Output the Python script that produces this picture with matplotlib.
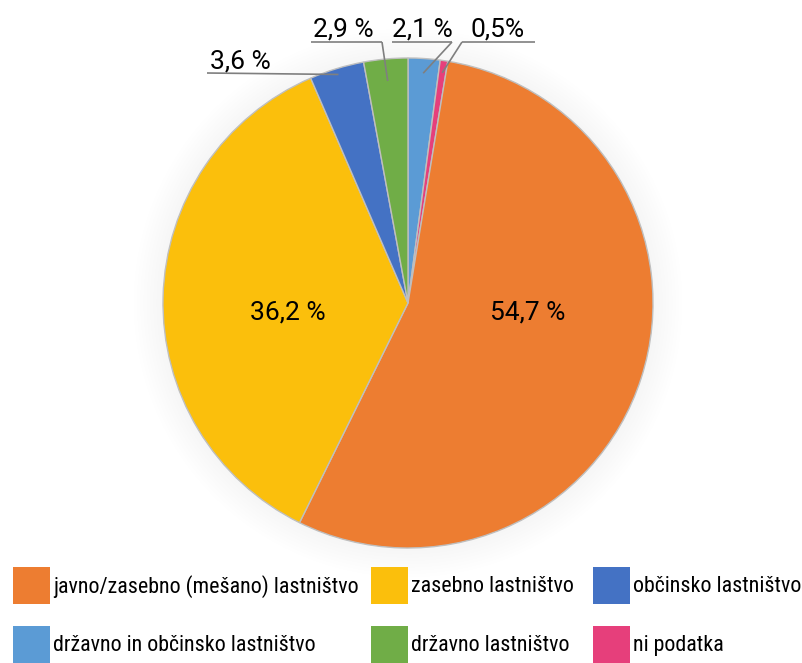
import matplotlib
matplotlib.use("Agg")
import matplotlib.pyplot as plt
from matplotlib.patches import Circle, Rectangle
import numpy as np

plt.rcParams['font.family'] = ['Roboto Condensed', 'Lato', 'DejaVu Sans']
LABEL_FONT = ['Roboto', 'DejaVu Sans']

# Data (clockwise from 12 o'clock)
categories = ["državno in občinsko lastništvo", "ni podatka",
              "javno/zasebno (mešano) lastništvo", "zasebno lastništvo",
              "občinsko lastništvo", "državno lastništvo"]
values = [2.1, 0.5, 54.7, 36.2, 3.6, 2.9]
value_labels = ["2,1 %", "0,5%", "54,7 %", "36,2 %", "3,6 %", "2,9 %"]
colors = ["#5B9BD5", "#E63F7B", "#ED7D31", "#FBBF0C", "#4472C4", "#70AD47"]

legend_order = ["javno/zasebno (mešano) lastništvo", "zasebno lastništvo",
                "občinsko lastništvo", "državno in občinsko lastništvo",
                "državno lastništvo", "ni podatka"]

W, H = 803, 663
cx, cy, R = 408, 303, 245  # pie center/radius in pixels (from top)

fig = plt.figure(figsize=(W / 100, H / 100), dpi=100)
ax = fig.add_axes([0, 0, 1, 1])

def px(x, y):
    return ((x - cx) / R, (cy - y) / R)

# very faint glow behind pie
for r in np.linspace(1.0, 1.12, 10):
    ax.add_patch(Circle((0, 0), r, facecolor='k', edgecolor='none', alpha=0.0025, zorder=0))

wedges, _ = ax.pie(values, colors=colors, startangle=90, counterclock=False,
                   radius=1.0, center=(0, 0), frame=True,
                   wedgeprops=dict(edgecolor='#BFBFBF', linewidth=1.0))
ax.set_xlim(-cx / R, (W - cx) / R)
ax.set_ylim(-(H - cy) / R, cy / R)
ax.set_aspect('auto')
ax.axis('off')
for w in wedges:
    w.set_zorder(2)

lab_fs = 19
lc = '#7F7F7F'

inside = {"54,7 %": (528, 313), "36,2 %": (288, 313)}
outside = {
    "3,6 %": dict(tx=240, ty=69, u0=207, u1=None, uy=73, ls=None, r=0.975),
    "2,9 %": dict(tx=343, ty=37, u0=311, u1=382, uy=42, ls=382, r=0.91),
    "2,1 %": dict(tx=422, ty=37, u0=392, u1=452, uy=42, ls=452, r=0.94),
    "0,5%":  dict(tx=498, ty=37, u0=462, u1=535, uy=42, ls=462, r=0.95),
}

for w, lab in zip(wedges, value_labels):
    if lab in inside:
        x, y = px(*inside[lab])
        ax.text(x, y, lab, ha='center', va='center', fontsize=lab_fs, color='black',
                zorder=5, family=LABEL_FONT)
    else:
        o = outside[lab]
        mid = np.deg2rad((w.theta1 + w.theta2) / 2)
        axx, ayy = o['r'] * np.cos(mid), o['r'] * np.sin(mid)
        x, y = px(o['tx'], o['ty'])
        ax.text(x, y, lab, ha='center', va='baseline', fontsize=lab_fs, color='black',
                zorder=5, family=LABEL_FONT)
        ux0, uy = px(o['u0'], o['uy'])
        if o['u1'] is None:
            ax.plot([ux0, axx], [uy, ayy], color=lc, lw=1.2, zorder=4, solid_capstyle='butt')
        else:
            ux1, _ = px(o['u1'], o['uy'])
            ax.plot([ux0, ux1], [uy, uy], color=lc, lw=1.2, zorder=4, solid_capstyle='butt')
            lsx, _ = px(o['ls'], o['uy'])
            ax.plot([lsx, axx], [uy, ayy], color=lc, lw=1.2, zorder=4, solid_capstyle='butt')

# legend (manual, 3 columns x 2 rows)
col_x = [13, 371, 593]
row_y = [567, 626]
sq = 37
leg_fs = 15.8
for i, name in enumerate(legend_order):
    c = colors[categories.index(name)]
    col, row = i % 3, i // 3
    x0, y0 = col_x[col], row_y[row]
    fig.patches.append(Rectangle((x0 / W, 1 - (y0 + sq) / H), sq / W, sq / H,
                                 transform=fig.transFigure, facecolor=c, edgecolor='none'))
    fig.text((x0 + sq + 3) / W, 1 - (y0 + sq / 2 + 1) / H, name, ha='left', va='center',
             fontsize=leg_fs, color='black')

fig.savefig("out.png", dpi=100, facecolor='white')
